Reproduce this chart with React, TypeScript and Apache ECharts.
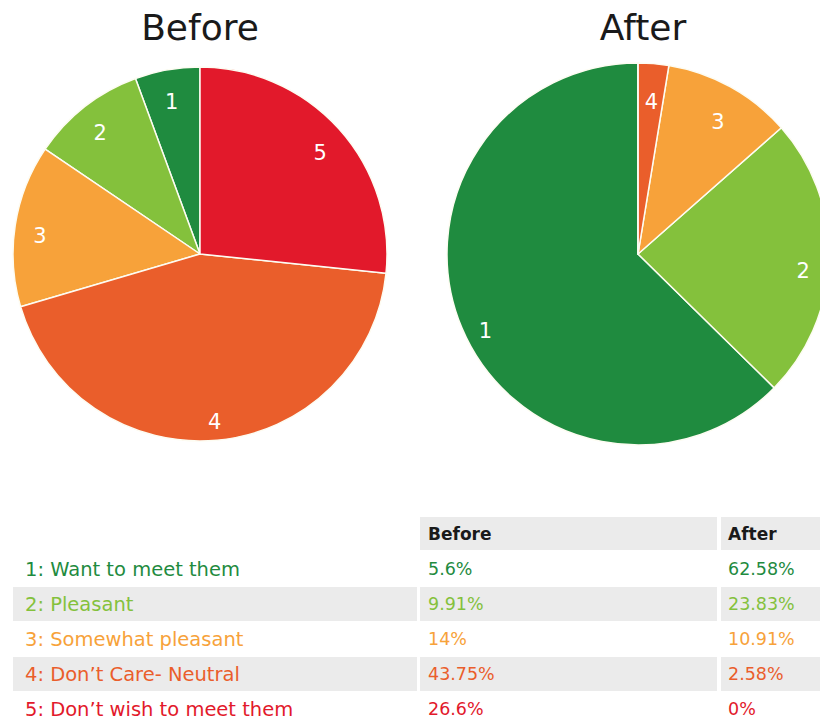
import React, { useEffect, useRef } from "react";
import * as echarts from "echarts";

const categories = [
  "1: Want to meet them",
  "2: Pleasant",
  "3: Somewhat pleasant",
  "4: Don\u2019t Care- Neutral",
  "5: Don\u2019t wish to meet them",
];
const sliceLabels = ["1", "2", "3", "4", "5"];
const beforeValues = [5.6, 9.91, 14, 43.75, 26.6];
const afterValues = [62.58, 23.83, 10.91, 2.58, 0];
const beforeText = ["5.6%", "9.91%", "14%", "43.75%", "26.6%"];
const afterText = ["62.58%", "23.83%", "10.91%", "2.58%", "0%"];
const colors = ["#1f8b3f", "#84c13c", "#f7a23a", "#ea5e2b", "#e2192b"];
const titles = ["Before", "After"];
const headers = ["Before", "After"];

const FONT = '"DejaVu Sans", Verdana, sans-serif';

function pieSeries(values: number[], center: [number, number], r: number, dy: number) {
  return [
    {
      type: "pie",
      center,
      radius: [0, r],
      clockwise: false,
      startAngle: 90,
      silent: true,
      label: { show: false },
      labelLine: { show: false },
      itemStyle: { borderColor: "#fdfcf2", borderWidth: 1.5 },
      data: values.map((v, i) => ({
        value: v,
        name: sliceLabels[i],
        itemStyle: { color: colors[i] },
      })),
    },
    {
      type: "pie",
      center,
      radius: [r * 0.7, r],
      clockwise: false,
      startAngle: 90,
      silent: true,
      itemStyle: { color: "rgba(0,0,0,0)", borderWidth: 0 },
      labelLine: { show: false },
      label: {
        show: true,
        position: "inside",
        formatter: "{b}",
        color: "#ffffff",
        fontSize: 21,
        fontFamily: FONT,
        textBorderWidth: 0,
        offset: [0, dy],
      },
      data: values.map((v, i) => ({
        value: v,
        name: sliceLabels[i],
        label: { show: v > 0 },
      })),
    },
  ];
}

export default function App() {
  const ref = useRef<HTMLDivElement>(null);
  useEffect(() => {
    if (!ref.current) return;
    const chart = echarts.init(ref.current, undefined, { renderer: "svg" });

    const graphic: any[] = [];
    graphic.push({
      type: "text",
      x: 200,
      y: 27,
      style: { text: titles[0], fill: "#1a1a1a", font: `36px ${FONT}`, align: "center", verticalAlign: "middle" },
    });
    graphic.push({
      type: "text",
      x: 643,
      y: 27,
      style: { text: titles[1], fill: "#1a1a1a", font: `36px ${FONT}`, align: "center", verticalAlign: "middle" },
    });

    const gray = "#ebebeb";
    const colLabelX = 25;
    const colBeforeX = 428;
    const colAfterX = 728;
    const headerTop = 517;
    const rowH = 35;
    graphic.push({ type: "rect", shape: { x: 420, y: headerTop, width: 297, height: 33 }, style: { fill: gray } });
    graphic.push({ type: "rect", shape: { x: 721, y: headerTop, width: 100, height: 33 }, style: { fill: gray } });
    graphic.push({
      type: "text",
      x: colBeforeX,
      y: headerTop + 17,
      style: { text: headers[0], fill: "#1a1a1a", font: `bold 17px ${FONT}`, verticalAlign: "middle" },
    });
    graphic.push({
      type: "text",
      x: colAfterX,
      y: headerTop + 17,
      style: { text: headers[1], fill: "#1a1a1a", font: `bold 17px ${FONT}`, verticalAlign: "middle" },
    });

    categories.forEach((cat, i) => {
      const top = headerTop + rowH * (i + 1);
      if (i % 2 === 1) {
        graphic.push({ type: "rect", shape: { x: 13, y: top, width: 404, height: 34 }, style: { fill: gray } });
        graphic.push({ type: "rect", shape: { x: 420, y: top, width: 297, height: 34 }, style: { fill: gray } });
        graphic.push({ type: "rect", shape: { x: 721, y: top, width: 100, height: 34 }, style: { fill: gray } });
      }
      const cy = top + 17;
      const fl = `19.5px ${FONT}`;
      const fv = `17.5px ${FONT}`;
      graphic.push({ type: "text", x: colLabelX, y: cy, style: { text: cat, fill: colors[i], font: fl, verticalAlign: "middle" } });
      graphic.push({ type: "text", x: colBeforeX, y: cy, style: { text: beforeText[i], fill: colors[i], font: fv, verticalAlign: "middle" } });
      graphic.push({ type: "text", x: colAfterX, y: cy, style: { text: afterText[i], fill: colors[i], font: fv, verticalAlign: "middle" } });
    });

    chart.setOption({
      animation: false,
      backgroundColor: "#ffffff",
      series: [
        ...pieSeries(beforeValues, [200, 254], 187, 7),
        ...pieSeries(afterValues, [638, 254], 191, 13),
      ],
      graphic,
    });
    return () => chart.dispose();
  }, []);
  return (
    <div
      ref={ref}
      style={{ position: "fixed", left: 0, top: 0, width: 820, height: 723 }}
    />
  );
}
